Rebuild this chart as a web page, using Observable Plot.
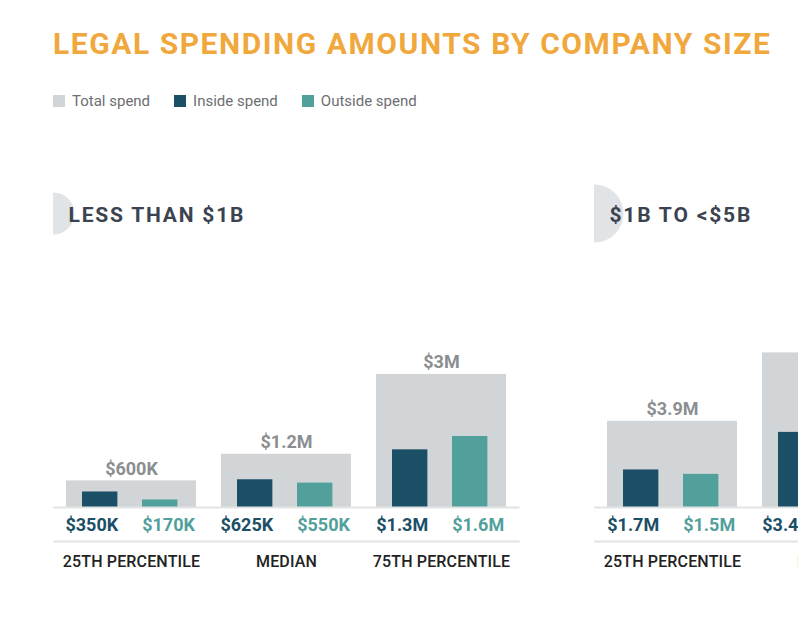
<!DOCTYPE html>
<html>
<head>
<meta charset="utf-8">
<script src="https://cdn.jsdelivr.net/npm/d3@7"></script>
<script src="https://cdn.jsdelivr.net/npm/@observablehq/plot@0.6"></script>
<style>
  html, body { margin: 0; padding: 0; background: #fff; overflow: hidden; }
  #wrap { position: relative; width: 798px; height: 618px; overflow: hidden; font-family: Roboto, sans-serif; }
  #title { position: absolute; left: 53px; top: 24px; font-size: 30px; font-weight: 700; color: #f0a83c; letter-spacing: 1.55px; white-space: nowrap; line-height: 40px; }
  #legend { position: absolute; left: 53px; top: 92px; display: flex; align-items: center; font-size: 15px; color: #6b6e72; white-space: nowrap; }
  .item { display: flex; align-items: center; margin-right: 24px; }
  .sw { width: 12px; height: 12px; margin-right: 7px; }
  .panel { position: absolute; top: 170px; width: 541px; }
  .panel svg { max-width: none !important; display: block; }
</style>
</head>
<body>
<div id="wrap">
  <div id="title">LEGAL SPENDING AMOUNTS BY COMPANY SIZE</div>
  <div id="legend"></div>
</div>
<script>
// ---- data ----
const categories = ["25TH PERCENTILE", "MEDIAN", "75TH PERCENTILE"];
const panelTitles = ["LESS THAN $1B", "$1B TO <$5B"];
const seriesNames = ["Total spend", "Inside spend", "Outside spend"];

// values in $M
const totalSmall = [0.6, 1.2, 3.0];
const insideSmall = [0.35, 0.625, 1.3];
const outsideSmall = [0.17, 0.55, 1.6];
const totalLabelsSmall = ["$600K", "$1.2M", "$3M"];
const insideLabelsSmall = ["$350K", "$625K", "$1.3M"];
const outsideLabelsSmall = ["$170K", "$550K", "$1.6M"];

const totalMid = [3.9, 7.0, 11.0];
const insideMid = [1.7, 3.4, 5.0];
const outsideMid = [1.5, 3.6, 5.5];
const totalLabelsMid = ["$3.9M", "$7M", "$11M"];
const insideLabelsMid = ["$1.7M", "$3.4M", "$5M"];
const outsideLabelsMid = ["$1.5M", "$3.6M", "$5.5M"];

// ---- styles ----
const colTotal = "#d2d5d8", colInside = "#1b4f66", colOutside = "#52a09c";

const legend = document.getElementById("legend");
[colTotal, colInside, colOutside].forEach((c, i) => {
  const it = document.createElement("div");
  it.className = "item";
  it.innerHTML = `<div class="sw" style="background:${c}"></div><span>${seriesNames[i]}</span>`;
  legend.appendChild(it);
});

function rows(total, inside, outside, tl, il, ol) {
  return categories.map((c, i) => ({cat: c, total: total[i], inside: inside[i], outside: outside[i], tl: tl[i], il: il[i], ol: ol[i]}));
}

const panels = [
  {title: panelTitles[0], data: rows(totalSmall, insideSmall, outsideSmall, totalLabelsSmall, insideLabelsSmall, outsideLabelsSmall), ymax: 5.95, r: 21, left: 53},
  {title: panelTitles[1], data: rows(totalMid, insideMid, outsideMid, totalLabelsMid, insideLabelsMid, outsideLabelsMid), ymax: 11.95, r: 29, left: 594}
];

const wrap = document.getElementById("wrap");
const W = 541, innerW = 466.5, H = 420, mB = 83, mT = 73;

panels.forEach(p => {
  const bw = innerW / 3 * (1 - 0.16);
  const chart = Plot.plot({
    width: W, height: H,
    marginLeft: 0, marginRight: W - innerW, marginTop: mT, marginBottom: mB,
    style: {fontFamily: "Roboto, sans-serif", overflow: "hidden", background: "transparent", maxWidth: "none"},
    x: {domain: categories, paddingInner: 0.16, paddingOuter: 0.08, axis: null},
    y: {domain: [0, p.ymax], axis: null},
    marks: [
      Plot.dot([p.title], {frameAnchor: "top-left", dy: -30, r: p.r, fill: "#e1e4e7", stroke: null}),
      Plot.text([p.title], {frameAnchor: "top-left", lineAnchor: "middle", dx: 15, dy: -28, text: d => d, textAnchor: "start", fontSize: 21, fontWeight: 700, fill: "#3b4350"}),
      Plot.barY(p.data, {x: "cat", y: "total", fill: colTotal}),
      Plot.barY(p.data, {x: "cat", y: "inside", fill: colInside, insetLeft: 16, insetRight: bw - 52}),
      Plot.barY(p.data, {x: "cat", y: "outside", fill: colOutside, insetLeft: 76, insetRight: bw - 112}),
      Plot.ruleY([0], {stroke: "#e2e3e4", strokeWidth: 2}),
      Plot.ruleY([0], {stroke: "#e2e3e4", strokeWidth: 2, dy: 34}),
      Plot.text(p.data, {x: "cat", y: "total", text: "tl", dy: -12, fill: "#8b8e91", fontSize: 18, fontWeight: 700}),
      Plot.text(p.data, {x: "cat", y: 0, text: "il", dy: 18, dx: 52 - bw / 2, textAnchor: "end", fill: colInside, fontSize: 18, fontWeight: 700}),
      Plot.text(p.data, {x: "cat", y: 0, text: "ol", dy: 18, dx: 76 - bw / 2, textAnchor: "start", fill: colOutside, fontSize: 18, fontWeight: 700}),
      Plot.text(p.data, {x: "cat", y: 0, text: "cat", dy: 54, fill: "#222", fontSize: 16, fontWeight: 500})
    ]
  });
  const svg = d3.select(chart);
  svg.selectAll("text").filter(function () { return this.textContent === p.title; }).style("letter-spacing", "1.8px");
  svg.selectAll("text").filter(function () { return categories.includes(this.textContent); }).style("letter-spacing", "0.15px");
  const div = document.createElement("div");
  div.className = "panel";
  div.style.left = p.left + "px";
  div.appendChild(chart);
  wrap.appendChild(div);
});
</script>
</body>
</html>
